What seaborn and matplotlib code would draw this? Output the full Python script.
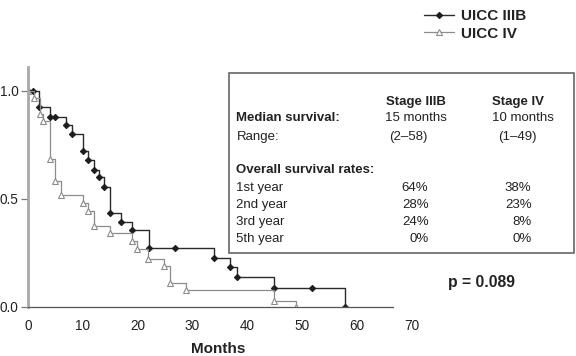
import numpy as np
import pandas as pd
import matplotlib
matplotlib.use("Agg")
import matplotlib.pyplot as plt
from matplotlib.lines import Line2D
from matplotlib.patches import Rectangle
import seaborn as sns

# Kaplan-Meier steps (months, survival)
iiib_months = [0, 1, 2, 4.1, 4.9, 6.9, 8, 10, 10.9, 12, 13, 13.9, 15, 16.9, 19, 22, 26.8, 34, 36.9, 38.1, 44.8, 51.8, 57.8]
iiib_surv = [1.0, 1.0, 0.925, 0.88, 0.88, 0.843, 0.80, 0.724, 0.68, 0.634, 0.60, 0.557, 0.437, 0.395, 0.356, 0.275, 0.275, 0.227, 0.187, 0.138, 0.086, 0.086, 0.0]

iv_months = [0, 1.1, 2.2, 2.8, 4.0, 4.9, 6.0, 10, 11, 12, 15, 18.9, 19.8, 21.9, 24.9, 25.9, 28.8, 44.8, 48.9]
iv_surv = [1.0, 0.966, 0.892, 0.86, 0.685, 0.585, 0.518, 0.48, 0.446, 0.376, 0.341, 0.304, 0.269, 0.224, 0.19, 0.11, 0.079, 0.029, 0.0]

xtick_vals = [0, 10, 20, 30, 40, 50, 60, 70]
ytick_vals = [0.0, 0.5, 1.0]
ytick_labels = ["0.0", "0.5", "1.0"]

series_labels = ["UICC IIIB", "UICC IV"]
col_heads = ["Stage IIIB", "Stage IV"]
median_surv = ["15 months", "10 months"]
surv_range = ["(2\u201358)", "(1\u201349)"]
rate_rows = ["1st year", "2nd year", "3rd year", "5th year"]
iiib_rates = ["64%", "28%", "24%", "0%"]
iv_rates = ["38%", "23%", "8%", "0%"]
p_text = "p = 0.089"

sns.set_style("white")
plt.rcParams['font.family'] = ['Liberation Sans', 'DejaVu Sans']

W, H = 576, 356
fig = plt.figure(figsize=(W / 100, H / 100), dpi=100)
ax = fig.add_axes([28 / W, 49 / H, 383.6 / W, 240 / H])

iiib_col = "#1e1e1e"
iv_col = "#8c8c8c"

sns.lineplot(x=iiib_months, y=iiib_surv, ax=ax, estimator=None, sort=False,
             drawstyle="steps-post", color="#2a2a2a", linewidth=1.0,
             marker="D", markersize=3.2, markerfacecolor=iiib_col, markeredgecolor=iiib_col)
sns.lineplot(x=iv_months, y=iv_surv, ax=ax, estimator=None, sort=False,
             drawstyle="steps-post", color=iv_col, linewidth=0.9,
             marker="^", markersize=4.3, markerfacecolor="white", markeredgecolor=iv_col,
             markeredgewidth=0.8)

ax.set_xlim(0, 70)
ax.set_ylim(0, 1.111)
for s in ["top", "right"]:
    ax.spines[s].set_visible(False)
ax.spines["left"].set_color("#a8a8a8")
ax.spines["left"].set_linewidth(2.0)
ax.spines["bottom"].set_color("#555555")
ax.spines["bottom"].set_linewidth(0.9)
ax.spines["bottom"].set_bounds(0, 200 / 3)

ax.set_xticks(xtick_vals)
ax.set_xticklabels([str(v) for v in xtick_vals])
ax.set_xticks([k * 40 / 3 for k in range(6)], minor=True)
ax.tick_params(axis="x", which="major", length=0, pad=9, labelsize=9.8, labelcolor="#222222")
ax.tick_params(axis="x", which="minor", length=5, width=0.9, color="#555555", direction="out")
ax.set_yticks(ytick_vals)
ax.set_yticklabels(ytick_labels)
ax.tick_params(axis="y", length=5, width=0.9, color="#777777", labelsize=9.8,
               labelcolor="#222222", pad=2, left=True)
ax.set_xlabel("")
ax.set_ylabel("")

fig.text(218 / W, 1 - 349 / H, "Months", ha="center", va="center",
         fontsize=11, fontweight="bold", color="#222222")

# legend
handles = [
    Line2D([], [], color="#2a2a2a", linewidth=1.0, marker="D", markersize=3,
           markerfacecolor=iiib_col, markeredgecolor=iiib_col),
    Line2D([], [], color=iv_col, linewidth=0.9, marker="^", markersize=4,
           markerfacecolor="white", markeredgecolor=iv_col, markeredgewidth=0.8),
]
leg = fig.legend(handles, series_labels, loc="upper left",
                 bbox_to_anchor=(424 / W, 1 - 9 / H), frameon=False,
                 borderpad=0, borderaxespad=0, handlelength=1.95,
                 handletextpad=0.45, labelspacing=0.25,
                 prop={"size": 11, "weight": "bold"})
for t in leg.get_texts():
    t.set_color("#222222")

# info box
def fx(px):
    return px / W

def fy(py):
    return 1 - py / H

box = Rectangle((fx(229), fy(253)), (574 - 229) / W, (253 - 73) / H,
                transform=fig.transFigure, fill=False, edgecolor="#666666", linewidth=1.2)
fig.add_artist(box)

fs = 9.5
tc = "#222222"
col_x = [415.5, 518]
for i, h in enumerate(col_heads):
    fig.text(fx(col_x[i]), fy(101.7), h, ha="center", va="center", fontsize=fs,
             fontweight="bold", color=tc)
fig.text(fx(236.5), fy(118.3), "Median survival:", ha="left", va="center",
         fontsize=fs, fontweight="bold", color=tc)
fig.text(fx(236.5), fy(136.7), "Range:", ha="left", va="center", fontsize=fs, color=tc)
med_x = [415.5, 522.5]
rng_x = [408, 517.5]
for i in range(2):
    fig.text(fx(med_x[i]), fy(118.3), median_surv[i], ha="center", va="center",
             fontsize=fs, color=tc)
    fig.text(fx(rng_x[i]), fy(136.7), surv_range[i], ha="center", va="center",
             fontsize=fs, color=tc)
fig.text(fx(236.5), fy(170), "Overall survival rates:", ha="left", va="center",
         fontsize=fs, fontweight="bold", color=tc)
row_y = [188.3, 205, 221.7, 239.3]
for r, lab in enumerate(rate_rows):
    fig.text(fx(236.5), fy(row_y[r]), lab, ha="left", va="center", fontsize=fs, color=tc)
    fig.text(fx(428.5), fy(row_y[r]), iiib_rates[r], ha="right", va="center",
             fontsize=fs, color=tc)
    fig.text(fx(531.5), fy(row_y[r]), iv_rates[r], ha="right", va="center",
             fontsize=fs, color=tc)

fig.text(fx(481.7), fy(282.7), p_text, ha="center", va="center", fontsize=11.3,
         fontweight="bold", color=tc)

fig.savefig("out.png", dpi=100)
